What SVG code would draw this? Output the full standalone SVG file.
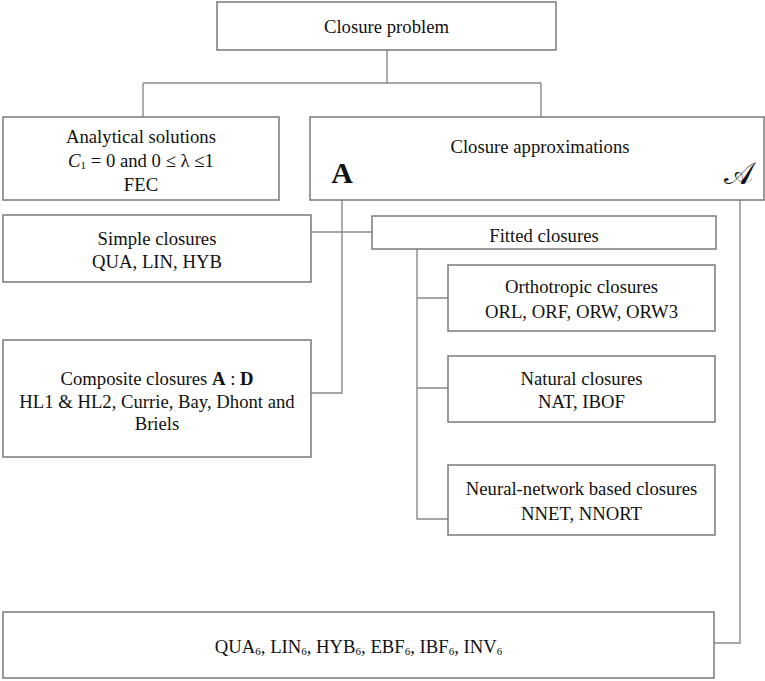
<svg xmlns="http://www.w3.org/2000/svg" width="765" height="681" viewBox="0 0 765 681">
<style>
.box{fill:#fff;stroke:#7a7a7a;stroke-width:1.5}
.ln{fill:none;stroke:#8a8a8a;stroke-width:1.4}
text{font-family:"Liberation Serif","Times New Roman",serif;font-size:18.7px;fill:#111;text-anchor:middle}
.b{font-weight:bold}
.sub{font-size:11px}
</style>
<rect width="765" height="681" fill="#fff"/>
<g id="connectors">
<path class="ln" d="M387 50V83M143 83H541M143 83V117M541 83V117"/>
<path class="ln" d="M342 200V393H311M311 232H372"/>
<path class="ln" d="M417 249V519H448M417 298H448M417 388H448"/>
<path class="ln" d="M740 200V643H714"/>
</g>
<g id="closure-problem"><rect class="box" x="217" y="2" width="339" height="48"/><text x="386.5" y="33">Closure problem</text></g>
<g id="analytical"><rect class="box" x="3" y="117" width="276" height="83"/>
<text x="141" y="143">Analytical solutions</text>
<text x="141" y="167"><tspan font-style="italic">C</tspan><tspan class="sub" dy="2">1</tspan><tspan dy="-2"> = 0 and 0 ≤ λ ≤1</tspan></text>
<text x="141" y="191">FEC</text></g>
<g id="closure-approx"><rect class="box" x="310" y="117" width="454" height="83"/>
<text x="540" y="153">Closure approximations</text>
<text x="342" y="183" class="b" style="font-size:30px">A</text>
<text x="738" y="184" style="font-size:31px;font-family:'DejaVu Serif','Liberation Serif',serif">𝒜</text></g>
<g id="simple"><rect class="box" x="3" y="215" width="308" height="67"/>
<text x="157" y="245">Simple closures</text><text x="157" y="268">QUA, LIN, HYB</text></g>
<g id="fitted"><rect class="box" x="372" y="216" width="344" height="33"/><text x="544" y="242">Fitted closures</text></g>
<g id="orthotropic"><rect class="box" x="448" y="265" width="267" height="66"/>
<text x="581.5" y="293">Orthotropic closures</text><text x="581.5" y="318">ORL, ORF, ORW, ORW3</text></g>
<g id="natural"><rect class="box" x="448" y="356" width="267" height="66"/>
<text x="581.5" y="385">Natural closures</text><text x="581.5" y="408">NAT, IBOF</text></g>
<g id="neural"><rect class="box" x="448" y="465" width="267" height="70"/>
<text x="581.5" y="495">Neural-network based closures</text><text x="581.5" y="520">NNET, NNORT</text></g>
<g id="composite"><rect class="box" x="3" y="340" width="308" height="117"/>
<text x="157" y="385">Composite closures <tspan class="b">A</tspan> : <tspan class="b">D</tspan></text>
<text x="157" y="408">HL1 &amp; HL2, Currie, Bay, Dhont and</text>
<text x="157" y="430">Briels</text></g>
<g id="sixth-order"><rect class="box" x="3" y="612" width="711" height="66"/>
<text x="358.5" y="653">QUA<tspan class="sub" dy="2">6</tspan><tspan dy="-2">, LIN</tspan><tspan class="sub" dy="2">6</tspan><tspan dy="-2">, HYB</tspan><tspan class="sub" dy="2">6</tspan><tspan dy="-2">, EBF</tspan><tspan class="sub" dy="2">6</tspan><tspan dy="-2">, IBF</tspan><tspan class="sub" dy="2">6</tspan><tspan dy="-2">, INV</tspan><tspan class="sub" dy="2">6</tspan></text></g>
</svg>
